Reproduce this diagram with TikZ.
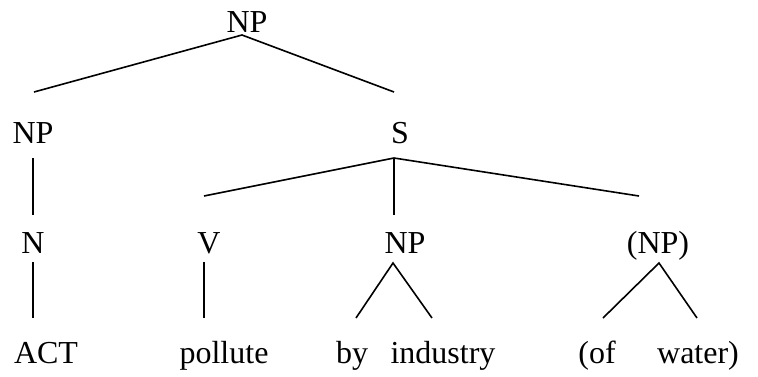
\documentclass[tikz,border=0pt]{standalone}
\usepackage{fontspec}
\setmainfont{Liberation Serif}
\begin{document}
\begin{tikzpicture}[x=1pt,y=-1pt,
  lbl/.style={anchor=base,inner sep=0pt,font=\fontsize{32}{36}\selectfont},
  edge/.style={line width=1.6pt,line cap=butt}]
\useasboundingbox (0,0) rectangle (758,376);
% nodes
\node[lbl] (top) at (247,32) {NP};
\node[lbl] (np1) at (33,143) {NP};
\node[lbl] (s) at (400,143) {S};
\node[lbl] (n) at (33,253) {N};
\node[lbl] (v) at (209,253) {V};
\node[lbl] (np2) at (405,253) {NP};
\node[lbl] (np3) at (658,253) {(NP)};
\node[lbl] (act) at (46,363) {ACT};
\node[lbl] (pollute) at (224,363) {pollute};
\node[lbl] (by) at (352,363) {by};
\node[lbl] (industry) at (443,363) {industry};
\node[lbl] (of) at (597,363) {(of};
\node[lbl] (water) at (698,363) {water)};
% connector ends
\coordinate (topB) at (242,35);
\coordinate (np1T) at (34,92);
\coordinate (sT) at (394,92);
\coordinate (np1B) at (33,158);
\coordinate (nT) at (33,215);
\coordinate (sB) at (394,158);
\coordinate (vT) at (204,196);
\coordinate (np2T) at (394,215);
\coordinate (np3T) at (639,196);
\coordinate (nB) at (33,262);
\coordinate (actT) at (33,318);
\coordinate (vB) at (204,262);
\coordinate (polT) at (204,318);
\coordinate (np2B) at (393,263);
\coordinate (byT) at (356,318);
\coordinate (indT) at (432,318);
\coordinate (np3B) at (659,263);
\coordinate (ofT) at (603,318);
\coordinate (watT) at (697,318);
% connectors
\draw[edge] (np1T) -- (topB) -- (sT);
\draw[edge] (np1B) -- (nT);
\draw[edge] (vT) -- (sB) -- (np3T);
\draw[edge] (sB) -- (np2T);
\draw[edge] (nB) -- (actT);
\draw[edge] (vB) -- (polT);
\draw[edge] (byT) -- (np2B) -- (indT);
\draw[edge] (ofT) -- (np3B) -- (watT);
\end{tikzpicture}
\end{document}
